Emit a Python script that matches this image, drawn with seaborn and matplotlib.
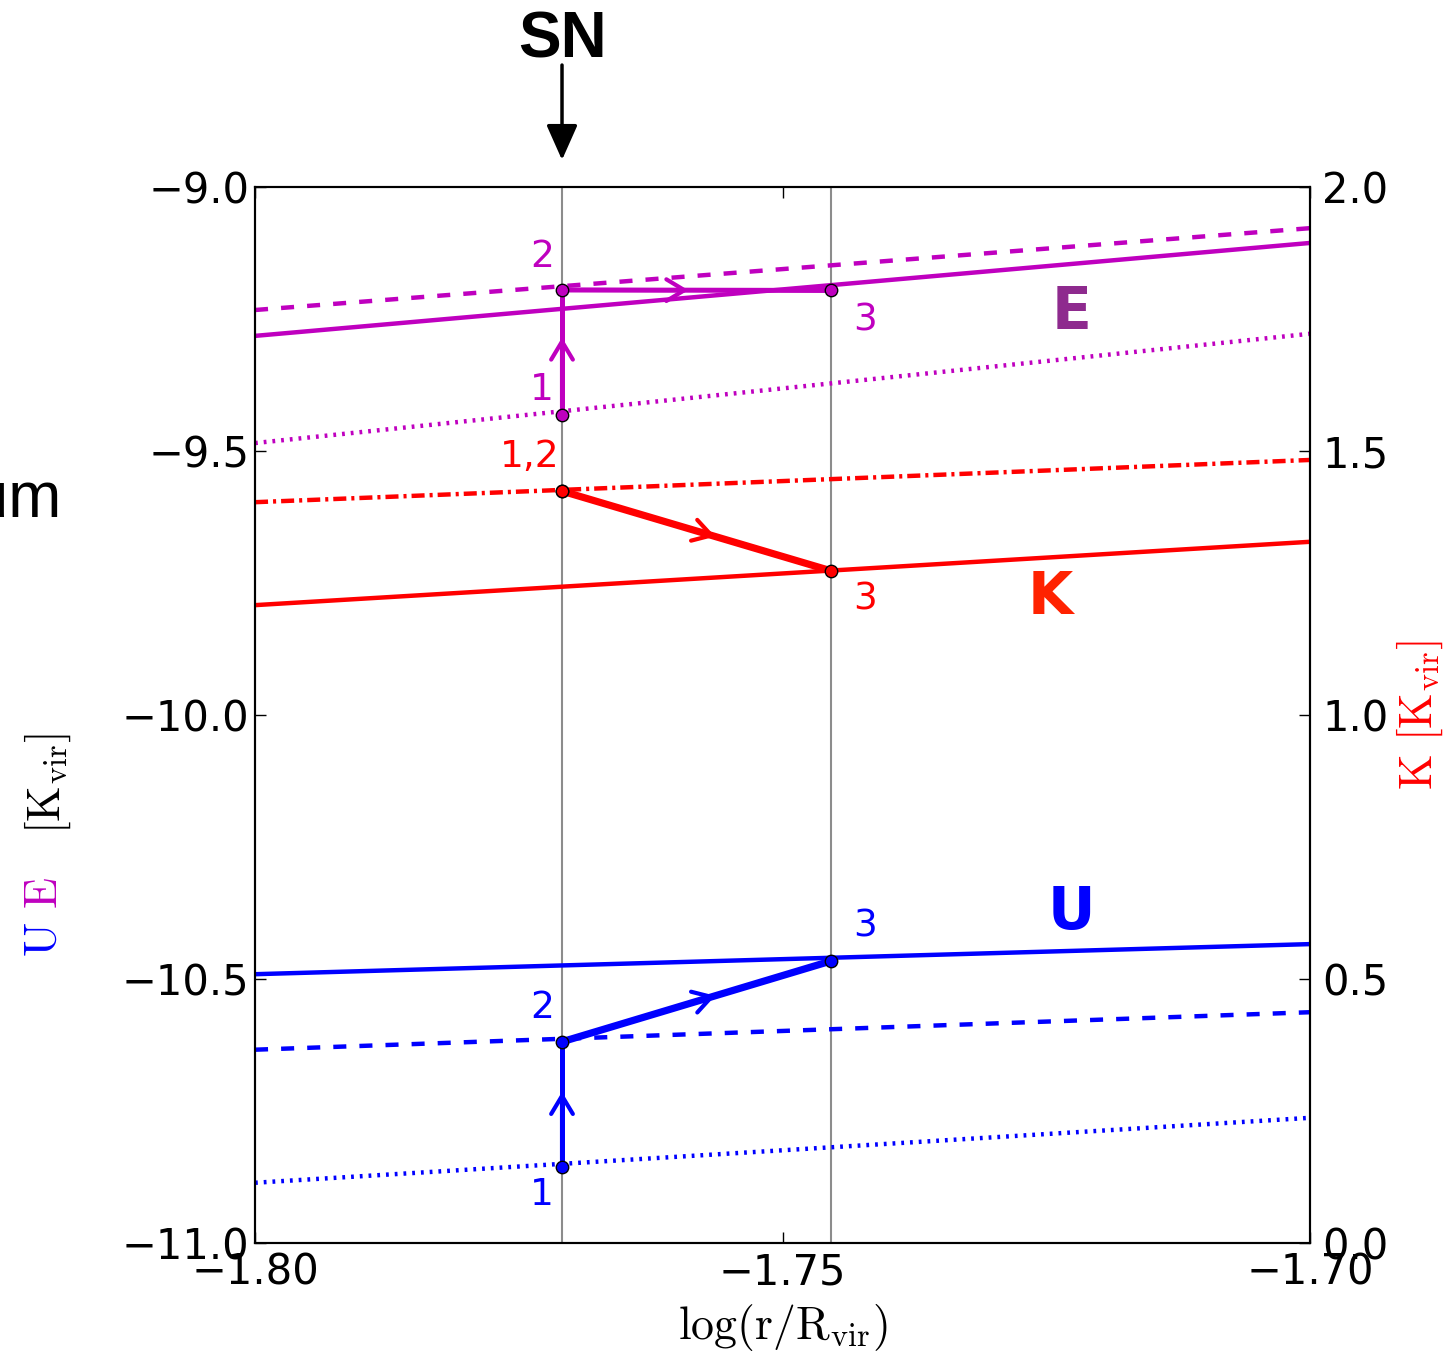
import numpy as np
import pandas as pd
import matplotlib
matplotlib.use("Agg")
import matplotlib.pyplot as plt
import seaborn as sns

# ---------------- data ----------------
r_grid = [-1.80, -1.70]
E_solid = [-9.282, -9.106]
E_dashed = [-9.233, -9.078]
E_dotted = [-9.485, -9.278]
K_solid = [1.208, 1.328]
K_dashdot = [1.403, 1.483]
U_solid = [-10.491, -10.434]
U_dashed = [-10.634, -10.563]
U_dotted = [-10.886, -10.763]

r_sn = -1.7709
r_3 = -1.7454
path_r = [r_sn, r_sn, r_3]
E_path = [-9.432, -9.195, -9.196]
K_path = [1.424, 1.424, 1.273]
U_path = [-10.856, -10.619, -10.466]

left_ticks = [-11.0, -10.5, -10.0, -9.5, -9.0]
right_ticks = [0.0, 0.5, 1.0, 1.5, 2.0]
x_ticks = [-1.80, -1.75, -1.70]

# ---------------- style ----------------
sns.set_style("ticks", {"xtick.direction": "in", "ytick.direction": "in"})
plt.rcParams["font.family"] = ["DejaVu Sans"]
plt.rcParams["mathtext.fontset"] = "cm"
plt.rcParams["lines.scale_dashes"] = False
plt.rcParams["text.color"] = "black"
plt.rcParams["axes.labelcolor"] = "black"
plt.rcParams["xtick.color"] = "black"
plt.rcParams["ytick.color"] = "black"
plt.rcParams["axes.edgecolor"] = "black"

MAG = "#BF00BF"
RED = "#FF0000"
BLUE = "#0000FF"

fig = plt.figure(figsize=(14.44, 13.55), dpi=100)
ax = fig.add_axes([0.1766, 0.0827, 0.7306, 0.7793])
ax2 = ax.twinx()

LW = 3.2
DASH = (0, (9.4, 9.4))
DOT = (0, (2.0, 4.3))
DASHDOT = (0, (9.4, 3.6, 2.2, 3.6))

def line(a, ys, color, ls, lw=LW):
    sns.lineplot(x=r_grid, y=ys, ax=a, color=color, linestyle=ls, lw=lw,
                 estimator=None, sort=False, legend=False)

line(ax, E_solid, MAG, "-")
line(ax, E_dashed, MAG, DASH)
line(ax, E_dotted, MAG, DOT)
line(ax, U_solid, BLUE, "-")
line(ax, U_dashed, BLUE, DASH)
line(ax, U_dotted, BLUE, DOT)
line(ax2, K_solid, RED, "-")
line(ax2, K_dashdot, RED, DASHDOT)

for xv in [r_sn, r_3]:
    ax.axvline(xv, color="0.55", lw=1.5, zorder=1)

# paths
def path(a, ys, color, lws, fracs):
    for i in range(2):
        x0, x1 = path_r[i], path_r[i + 1]
        y0, y1 = ys[i], ys[i + 1]
        if x0 == x1 and y0 == y1:
            continue
        a.plot([x0, x1], [y0, y1], color=color, lw=lws[i], solid_capstyle="butt", zorder=4)
        f = fracs[i]
        tip = (x0 + f * (x1 - x0), y0 + f * (y1 - y0))
        a.annotate("", xy=tip, xytext=(x0, y0),
                   arrowprops=dict(arrowstyle="->,head_length=0.5,head_width=0.3",
                                   color=color, lw=3.0, mutation_scale=26,
                                   shrinkA=0, shrinkB=0), zorder=4)
    sns.scatterplot(x=path_r, y=ys, ax=a, color=color, s=80, edgecolor="black",
                    linewidth=1.0, zorder=6, legend=False)

path(ax, E_path, MAG, [3.6, 3.6], [0.62, 0.47])
path(ax2, K_path, RED, [3.6, 5.2], [0.5, 0.57])
path(ax, U_path, BLUE, [3.6, 5.2], [0.6, 0.57])

# point labels
NUMFS = 27
def lab(a, txt, x, y, dx, dy, color):
    a.annotate(txt, xy=(x, y), xytext=(dx, dy), textcoords="offset pixels",
               ha="center", va="center", fontsize=NUMFS, color=color)

lab(ax, "1", path_r[0], E_path[0], -20, 25, MAG)
lab(ax, "2", path_r[1], E_path[1], -20, 33, MAG)
lab(ax, "3", path_r[2], E_path[2], 34, -30, MAG)
lab(ax2, "1,2", path_r[0], K_path[0], -32, 34, RED)
lab(ax2, "3", path_r[2], K_path[2], 34, -29, RED)
lab(ax, "1", path_r[0], U_path[0], -20, -28, BLUE)
lab(ax, "2", path_r[1], U_path[1], -20, 34, BLUE)
lab(ax, "3", path_r[2], U_path[2], 34, 35, BLUE)

# big letters
ax.text(-1.7226, -9.237, "E", fontsize=42, fontweight="bold", color="#8E2A8E",
        ha="center", va="center")
ax2.text(-1.7246, 1.223, "K", fontsize=42, fontweight="bold", color="#FF2200",
         ha="center", va="center")
ax.text(-1.7226, -10.375, "U", fontsize=42, fontweight="bold", color=BLUE,
        ha="center", va="center")

# axes limits / ticks
ax.set_xlim(-1.80, -1.70)
ax.set_ylim(-11.0, -9.0)
ax2.set_ylim(0.0, 2.0)
ax.set_xticks(x_ticks)
ax.set_xticklabels(["\u22121.80", "\u22121.75", "\u22121.70"])
ax.set_yticks(left_ticks)
ax.set_yticklabels(["\u221211.0", "\u221210.5", "\u221210.0", "\u22129.5", "\u22129.0"])
ax2.set_yticks(right_ticks)
ax2.set_yticklabels(["0.0", "0.5", "1.0", "1.5", "2.0"])

TFS = 30
ax.tick_params(axis="x", which="both", direction="in", length=8, width=1,
               labelsize=TFS, pad=6, top=True, bottom=True, colors="black")
ax.tick_params(axis="y", direction="in", length=8, width=1, labelsize=TFS, pad=4,
               left=True, right=False, colors="black")
ax2.tick_params(axis="y", direction="in", length=8, width=1, labelsize=TFS, pad=9,
                colors="black")
for a in (ax, ax2):
    for s in a.spines.values():
        s.set_linewidth(1.5)
        s.set_color("black")
        s.set_visible(True)

ax.set_xlabel(r"$\mathrm{log(r/R_{vir})}$", fontsize=33, labelpad=6, color="black")

# y labels
fig.text(0.031, 0.3063, r"$\mathrm{U}$", color=BLUE, fontsize=33, rotation=90,
         ha="center", va="center")
fig.text(0.031, 0.341, r"$\mathrm{E}$", color=MAG, fontsize=33, rotation=90,
         ha="center", va="center")
fig.text(0.033, 0.422, r"$[\mathrm{K_{vir}}]$", color="black", fontsize=33, rotation=90,
         ha="center", va="center")
fig.text(0.983, 0.4723, r"$\mathrm{K\ [K_{vir}]}$", color=RED, fontsize=33, rotation=90,
         ha="center", va="center")

# clipped title at the left edge
fig.text(0.043, 0.631, "Equilibrium", fontsize=46, ha="right", va="center",
         color="black", family=["Liberation Sans", "DejaVu Sans"])

# SN marker
ax.annotate("", xy=(r_sn, 1.0256), xytext=(r_sn, 1.1155),
            xycoords=ax.get_xaxis_transform(), textcoords=ax.get_xaxis_transform(),
            arrowprops=dict(arrowstyle="-|>,head_length=0.9,head_width=0.4",
                            color="black", lw=2.5, mutation_scale=24,
                            shrinkA=0, shrinkB=0))
ax.text(r_sn, 1.139, "SN", transform=ax.get_xaxis_transform(), fontsize=46,
        fontweight="bold", ha="center", va="center", color="black",
        family=["Liberation Sans", "DejaVu Sans"])

fig.savefig("out.png", dpi=100)
